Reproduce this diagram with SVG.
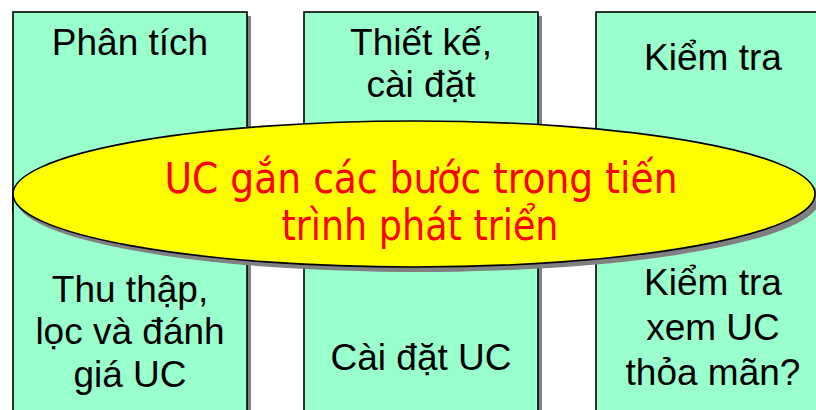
<svg xmlns="http://www.w3.org/2000/svg" width="816" height="410" viewBox="0 0 816 410">
<style>
.box{fill:#99FFCC;stroke:#000;stroke-width:1.6}
.sh{fill:#808080}
.t{font-family:"Liberation Sans",Arial,sans-serif;font-size:37px;fill:#000;text-anchor:middle}
.r{font-family:"DejaVu Sans","Noto Sans",sans-serif;font-size:42px;fill:#FF0000;text-anchor:middle}
</style>
<rect width="816" height="410" fill="#fff"/>
<g id="col-left-top">
<rect class="sh" x="17" y="16" width="234" height="200"/>
<rect class="box" x="13" y="12" width="234" height="200"/>
<text class="t" x="130" y="55">Phân tích</text>
</g>
<g id="col-left-bottom">
<rect class="sh" x="17" y="194" width="234" height="230"/>
<rect class="box" x="13" y="190" width="234" height="230"/>
<text class="t" x="130" y="302">Thu thập,</text>
<text class="t" x="130" y="344">lọc và đánh</text>
<text class="t" x="130" y="387">giá UC</text>
</g>
<g id="col-mid-top">
<rect class="sh" x="308" y="16" width="234" height="200"/>
<rect class="box" x="304" y="12" width="234" height="200"/>
<text class="t" x="421" y="55">Thiết kế,</text>
<text class="t" x="421" y="97">cài đặt</text>
</g>
<g id="col-mid-bottom">
<rect class="sh" x="308" y="194" width="234" height="230"/>
<rect class="box" x="304" y="190" width="234" height="230"/>
<text class="t" x="421" y="370">Cài đặt UC</text>
</g>
<g id="col-right-top">
<rect class="sh" x="600" y="16" width="234" height="200"/>
<rect class="box" x="596" y="12" width="234" height="200"/>
<text class="t" x="713" y="70">Kiểm tra</text>
</g>
<g id="col-right-bottom">
<rect class="sh" x="600" y="194" width="234" height="230"/>
<rect class="box" x="596" y="190" width="234" height="230"/>
<text class="t" x="713" y="295">Kiểm tra</text>
<text class="t" x="713" y="340">xem UC</text>
<text class="t" x="713" y="385">thỏa mãn?</text>
</g>
<g id="connectors"></g>
<g id="ellipse-center">
<ellipse cx="418" cy="199" rx="402" ry="73" fill="#808080"/>
<ellipse cx="414" cy="194" rx="401" ry="73" fill="#FFFF00" stroke="#000" stroke-width="1.6"/>
<text class="r" x="421" y="193" textLength="513" lengthAdjust="spacingAndGlyphs">UC gắn các bước trong tiến</text>
<text class="r" x="420" y="240" textLength="277" lengthAdjust="spacingAndGlyphs">trình phát triển</text>
</g>
</svg>
